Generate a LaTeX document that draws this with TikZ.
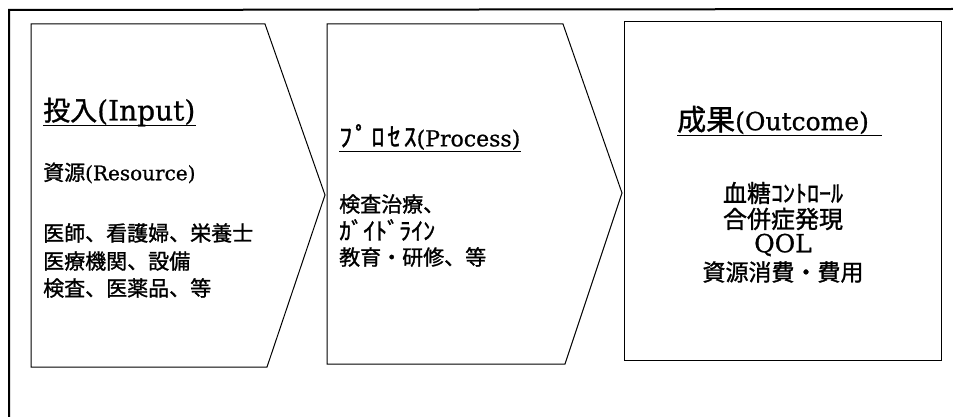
\documentclass[tikz,border=0pt]{standalone}
\usepackage{fontspec}
\newfontfamily\jpfont[FakeBold=1.2]{Noto Sans CJK JP}
\newfontfamily\latfont[FakeBold=0.8]{DejaVu Serif}
\newcommand\jsz[1]{\jpfont\fontsize{#1}{#1}\selectfont}
\newcommand\lsz[1]{\latfont\fontsize{#1}{#1}\selectfont}
\begin{document}
\begin{tikzpicture}[x=1pt,y=-1pt,
  stage/.style={draw,line width=1pt},
  frame/.style={line width=2pt},
  txt/.style={inner sep=0pt,anchor=west},
  ctxt/.style={inner sep=0pt,anchor=center},
  ul/.style={line width=1pt}]
\useasboundingbox (0,0) rectangle (953,417);
\fill[white] (0,0) rectangle (953,417);
% outer frame
\draw[frame] (9,417) -- (9,10) -- (953,9);
% stage shapes
\draw[stage] (31,24) -- (265,24) -- (325,195) -- (267,367) -- (31,367) -- cycle;
\draw[stage] (327,24) -- (563,24) -- (622,193) -- (565,364) -- (327,364) -- cycle;
\draw[stage] (624,22) rectangle (941,360);
% Input
\node[txt] (h1) at (43,112) {\jsz{27}投入{\lsz{28}(Input)}};
\draw[ul] ([yshift=-5pt]h1.base west) -- ([yshift=-5pt]h1.base east);
\node[txt] (r1) at (43,173) {\jsz{21}資源{\lsz{20}(Resource)}};
\node[txt] (a1) at (43,233) {\jsz{21}医師、看護婦、栄養士};
\node[txt] (a2) at (43,261) {\jsz{21}医療機関、設備};
\node[txt] (a3) at (43,288) {\jsz{21}検査、医薬品、等};
% Process
\node[txt] (h2) at (339,137) {\jsz{26}\addfontfeature{LetterSpace=12}ﾌﾟﾛｾｽ{\lsz{22}(Process)}};
\draw[ul] ([yshift=-5pt]h2.base west) -- ([yshift=-5pt]h2.base east);
\node[txt] (p1) at (339,204) {\jsz{21}検査治療、};
\node[txt] (p2) at (339,230) {\jsz{24}ｶﾞｲﾄﾞﾗｲﾝ};
\node[txt] (p3) at (339,257) {\jsz{21}教育・研修、等};
% Outcome
\node[txt] (h3) at (677,120) {\jsz{29}成果{\lsz{25}(Outcome)}};
\draw[ul] ([yshift=-5pt]h3.base west) -- ([yshift=-5pt,xshift=13pt]h3.base east);
\node[ctxt] (o1) at (783,193) {\jsz{24}血糖ｺﾝﾄﾛｰﾙ};
\node[ctxt] (o2) at (783,219) {\jsz{24}合併症発現};
\node[ctxt] (o3) at (783,245) {\lsz{25}QOL};
\node[ctxt] (o4) at (783,272) {\jsz{23}資源消費・費用};
\end{tikzpicture}
\end{document}
